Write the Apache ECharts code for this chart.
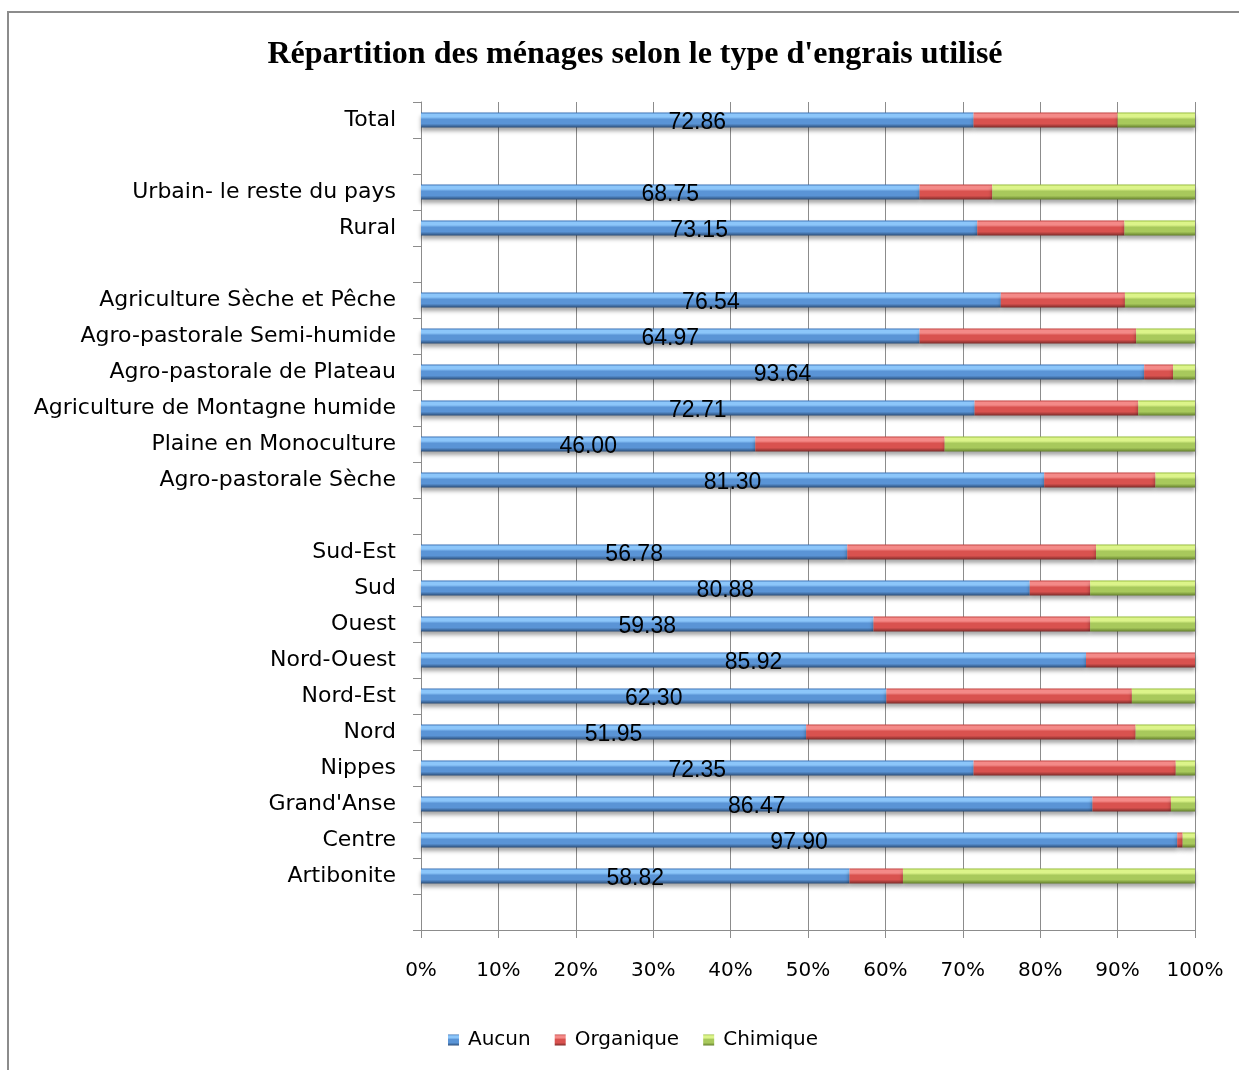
<!DOCTYPE html>
<html>
<head>
<meta charset="utf-8">
<script src="https://cdn.jsdelivr.net/npm/echarts@6/dist/echarts.min.js"></script>
<style>
  html, body { margin: 0; padding: 0; background: #fff; }
  #frame { position: absolute; left: 7px; top: 11px; width: 1240px; height: 1070px;
           border-left: 2px solid #8c8c8c; border-top: 2px solid #8c8c8c; }
  #chart { position: absolute; left: 0; top: 0; width: 1239px; height: 1070px; }
</style>
</head>
<body>
<div id="frame"></div>
<div id="chart"></div>
<script>
// Rows of the chart, top to bottom; blank entries are spacer rows between groups
const categories = [
  'Total', ' ',
  'Urbain- le reste du pays', 'Rural', '  ',
  'Agriculture Sèche et Pêche', 'Agro-pastorale Semi-humide', 'Agro-pastorale de Plateau',
  'Agriculture de Montagne humide', 'Plaine en Monoculture', 'Agro-pastorale Sèche', '   ',
  'Sud-Est', 'Sud', 'Ouest', 'Nord-Ouest', 'Nord-Est', 'Nord', 'Nippes',
  "Grand'Anse", 'Centre', 'Artibonite', '    '
];

// Share of households (%) by fertiliser type; null on spacer rows
const aucun = [
  72.86, null,
  68.75, 73.15, null,
  76.54, 64.97, 93.64, 72.71, 46.00, 81.30, null,
  56.78, 80.88, 59.38, 85.92, 62.30, 51.95, 72.35, 86.47, 97.90, 58.82, null
];
const organique = [
  19.00, null,
  10.03, 19.35, null,
  16.39, 28.23, 3.74, 21.50, 26.05, 14.51, null,
  33.13, 8.03, 28.43, 14.08, 32.87, 44.44, 26.47, 10.10, 0.70, 7.34, null
];
const chimique = [
  10.20, null,
  27.96, 9.28, null,
  9.25, 7.67, 2.84, 7.45, 34.45, 5.16, null,
  13.18, 13.93, 13.76, 0.00, 8.45, 8.01, 2.52, 3.10, 1.60, 40.09, null
];

const xTicks = ['0%', '10%', '20%', '30%', '40%', '50%', '60%', '70%', '80%', '90%', '100%'];

// 100% stacking: each row is scaled to its own total
const totals = aucun.map((v, i) => v == null ? null : v + organique[i] + chimique[i]);
const toShare = arr => arr.map((v, i) => v == null ? '-' : v / totals[i] * 100);

function barGradient(edge, light, body, dark) {
  return new echarts.graphic.LinearGradient(0, 0, 0, 1, [
    { offset: 0, color: edge },
    { offset: 0.12, color: light },
    { offset: 0.3, color: light },
    { offset: 0.45, color: body },
    { offset: 0.75, color: body },
    { offset: 1, color: dark }
  ]);
}

const blue = barGradient('#3a70b4', '#8cc6fa', '#5a94d6', '#2b4d78');
const red = barGradient('#c0413f', '#f48a88', '#d9524f', '#7c2a28');
const green = barGradient('#96bb3c', '#dcf48a', '#a8c95c', '#637f2c');

const shadow = { shadowBlur: 4, shadowColor: 'rgba(0,0,0,0.35)', shadowOffsetY: 3 };
const textFont = '"DejaVu Sans", sans-serif';

const chart = echarts.init(document.getElementById('chart'), null, { renderer: 'canvas' });
chart.setOption({
  animation: false,
  backgroundColor: 'transparent',
  title: {
    text: "Répartition des ménages selon le type d'engrais utilisé",
    left: 630, top: 34, textAlign: 'center',
    textStyle: { fontFamily: '"Liberation Serif", serif', fontWeight: 'bold', fontSize: 32, color: '#000' }
  },
  legend: {
    left: 443, top: 1025,
    itemWidth: 11, itemHeight: 11, itemGap: 24,
    icon: 'rect',
    textStyle: { fontFamily: textFont, fontSize: 20, color: '#000', padding: [0, 0, 0, 4] },
    data: ['Aucun', 'Organique', 'Chimique']
  },
  grid: { left: 421, right: 44, top: 102, bottom: 140 },
  xAxis: {
    type: 'value', min: 0, max: 100, interval: 10,
    axisLine: { show: true, lineStyle: { color: '#8c8c8c', width: 1 } },
    axisTick: { show: true, length: 8, lineStyle: { color: '#8c8c8c' } },
    splitLine: { show: true, lineStyle: { color: '#8c8c8c', width: 1 } },
    axisLabel: {
      margin: 31, color: '#000', fontFamily: textFont, fontSize: 20,
      formatter: v => xTicks[Math.round(v / 10)]
    }
  },
  yAxis: {
    type: 'category', inverse: true, data: categories,
    axisLine: { show: true, lineStyle: { color: '#8c8c8c', width: 1 } },
    axisTick: { show: true, length: 8, lineStyle: { color: '#8c8c8c' } },
    axisLabel: { margin: 25, color: '#000', fontFamily: textFont, fontSize: 22, padding: [4, 0, 0, 0] }
  },
  series: [
    {
      name: 'Aucun', type: 'bar', stack: 'share', barWidth: 15,
      data: toShare(aucun),
      itemStyle: Object.assign({ color: blue }, shadow),
      label: {
        show: true, position: 'inside', offset: [0, 3],
        color: '#000', fontFamily: '"Liberation Sans Narrow", "Liberation Sans", sans-serif', fontSize: 23,
        formatter: p => aucun[p.dataIndex].toFixed(2)
      }
    },
    {
      name: 'Organique', type: 'bar', stack: 'share', barWidth: 15,
      data: toShare(organique),
      itemStyle: Object.assign({ color: red }, shadow)
    },
    {
      name: 'Chimique', type: 'bar', stack: 'share', barWidth: 15,
      data: toShare(chimique),
      itemStyle: Object.assign({ color: green }, shadow)
    }
  ],
  color: ['#4a7fc0', '#c0504d', '#9bbb59']
});
</script>
</body>
</html>
